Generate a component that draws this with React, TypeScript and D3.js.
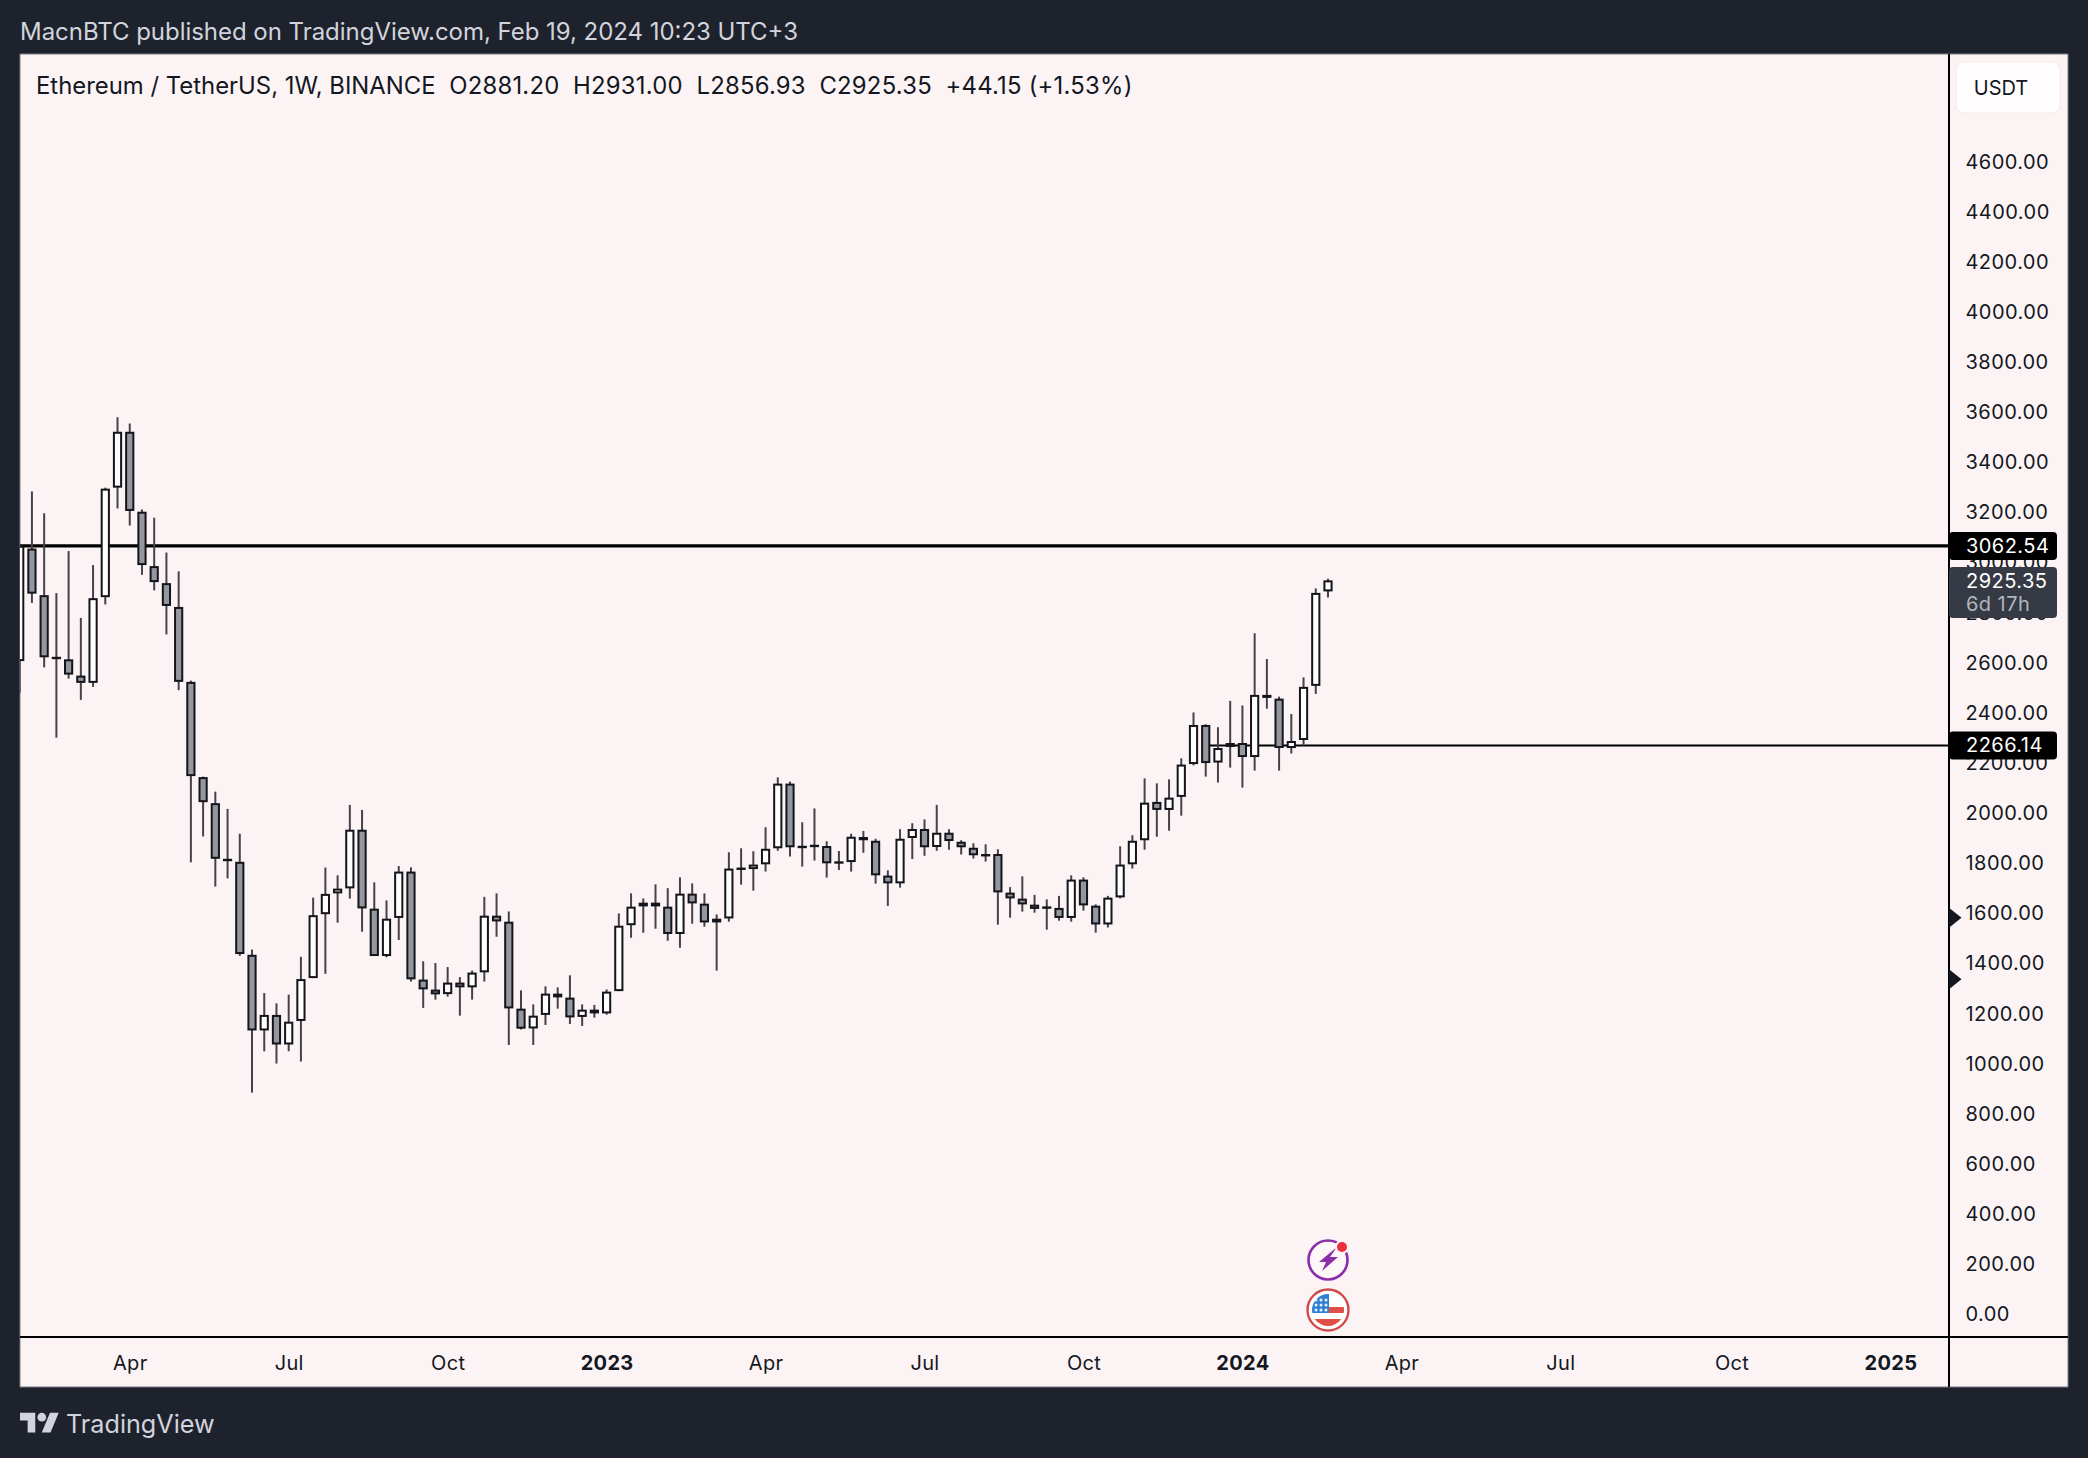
import { useEffect, useRef } from 'react'
import * as d3 from 'd3'

// weekly candles, first one is the week of 2022-01-31 and it is cut by the left edge
const opens = [2603,3052,2866,2620,2610,2545,2516,2858,3295,3518,3199,2982,2914,2819,2520,2140,2036,1814,1802,1431,1129,1191,1073,1167,1338,1593,1676,1696,1930,1615,1426,1578,1763,1332,1292,1274,1320,1301,1361,1587,1563,1216,1137,1191,1276,1260,1183,1212,1197,1286,1549,1624,1639,1623,1514,1675,1635,1560,1576,1777,1773,1792,1856,2114,1866,1870,1865,1800,1801,1901,1886,1747,1716,1897,1933,1861,1918,1882,1858,1833,1833,1679,1655,1631,1624,1618,1578,1731,1627,1552,1660,1792,1888,2041,2009,2061,2192,2348,2198,2260,2276,2220,2468,2453,2256,2288,2504,2881]
const highs = [3066,3280,3193,2874,3042,2775,2986,3295,3576,3551,3208,3175,3036,2961,2525,2142,2082,2013,1914,1452,1278,1237,1272,1423,1659,1779,1748,2029,2009,1720,1648,1785,1780,1405,1398,1382,1342,1368,1662,1676,1604,1289,1233,1305,1301,1349,1233,1231,1293,1596,1676,1656,1712,1697,1740,1716,1676,1592,1840,1856,1844,1940,2139,2122,1960,2015,1884,1845,1914,1925,1894,1768,1932,1956,1971,2029,1932,1888,1876,1872,1852,1701,1744,1670,1652,1666,1748,1740,1632,1666,1864,1908,2135,2115,2131,2215,2398,2351,2339,2444,2426,2714,2611,2461,2392,2538,2893,2931]
const lows = [2477,2835,2578,2297,2533,2448,2500,2829,3212,3144,2947,2885,2709,2487,1800,1903,1703,1736,1427,881,1046,997,1046,1005,1338,1355,1559,1655,1523,1426,1421,1490,1324,1219,1252,1264,1188,1252,1324,1503,1071,1133,1071,1151,1216,1155,1147,1180,1192,1286,1499,1519,1535,1487,1459,1555,1543,1368,1563,1711,1687,1763,1846,1823,1783,1807,1739,1769,1763,1838,1715,1626,1699,1813,1826,1846,1850,1831,1815,1803,1551,1579,1603,1599,1531,1567,1563,1607,1519,1540,1656,1775,1850,1902,1926,1986,2187,2142,2118,2178,2098,2166,2413,2166,2234,2266,2472,2857]
const closes = [3063,2872,2618,2616,2549,2516,2854,3291,3518,3202,2986,2918,2823,2520,2144,2040,1814,1810,1434,1129,1191,1073,1164,1334,1589,1674,1695,1930,1616,1426,1575,1763,1333,1293,1273,1320,1301,1360,1587,1564,1217,1136,1188,1276,1261,1181,1212,1197,1284,1547,1623,1639,1624,1514,1675,1636,1560,1575,1775,1779,1791,1854,2114,1860,1862,1866,1796,1804,1902,1888,1748,1716,1894,1933,1860,1918,1885,1860,1828,1831,1680,1656,1632,1614,1620,1578,1731,1628,1552,1659,1791,1886,2038,2009,2058,2190,2348,2196,2256,2276,2220,2468,2456,2256,2284,2500,2875,2925]

// tick labels sit on the first bar of each period, bar number counted from opens[0]
const timeTickBars = [9,22,35,48,61,74,87,100,113,126,140,153]
const timeTickLabels = ['Apr','Jul','Oct','2023','Apr','Jul','Oct','2024','Apr','Jul','Oct','2025']
const priceTicks = [0,200,400,600,800,1000,1200,1400,1600,1800,2000,2200,2400,2600,2800,3000,3200,3400,3600,3800,4000,4200,4400,4600]
const levelTop = 3062.54
const levelLow = 2266.14
const levelLowStartBar = 97
const lastPrice = 2925.35
const countdown = '6d 17h'
const eventMarkers = [1579, 1333]
const headerText = 'MacnBTC published on TradingView.com, Feb 19, 2024 10:23 UTC+3'
const legendParts = ['Ethereum / TetherUS, 1W, BINANCE', 'O2881.20', 'H2931.00', 'L2856.93', 'C2925.35', '+44.15 (+1.53%)']

const W = 2088
const H = 1458
const FONT = 'Inter, "Noto Sans", sans-serif'
const BG = '#1e222d'
const PANEL = '#fcf4f4'

export default function App() {
  const svgRef = useRef<SVGSVGElement>(null)

  useEffect(() => {
    if (!svgRef.current) return
    const svg = d3.select(svgRef.current)
    svg.selectAll('*').remove()

    const left = 20, right = 2068, top = 54, bottom = 1387
    const axisX = 1949, axisY = 1337

    const x = d3.scaleLinear().domain([0, 107]).range([19.7, 1328])
    const y = d3.scaleLinear().domain([0, 4600]).range([1313.4, 160.6])

    svg.append('rect').attr('width', W).attr('height', H).attr('fill', BG)
    svg.append('text').attr('x', 20).attr('y', 40).attr('fill', '#d1d4dc')
      .attr('font-size', 24).attr('font-family', FONT).attr('textLength', 778).text(headerText)

    svg.append('rect').attr('x', left).attr('y', top).attr('width', right - left).attr('height', bottom - top)
      .attr('fill', PANEL).attr('stroke', '#787b86').attr('stroke-width', 1)

    const clip = svg.append('defs').append('clipPath').attr('id', 'pane')
    clip.append('rect').attr('x', left).attr('y', top).attr('width', axisX - left).attr('height', axisY - top)
    const pane = svg.append('g').attr('clip-path', 'url(#pane)')

    // levels go under the candles
    pane.append('line').attr('x1', left).attr('x2', axisX).attr('y1', y(levelTop)).attr('y2', y(levelTop))
      .attr('stroke', '#000').attr('stroke-width', 3.4)
    pane.append('line').attr('x1', x(levelLowStartBar)).attr('x2', axisX).attr('y1', y(levelLow)).attr('y2', y(levelLow))
      .attr('stroke', '#000').attr('stroke-width', 2)

    const bars = d3.range(opens.length)
    pane.selectAll('line.wick').data(bars).join('line').attr('class', 'wick')
      .attr('x1', (i) => x(i)).attr('x2', (i) => x(i))
      .attr('y1', (i) => y(highs[i])).attr('y2', (i) => y(lows[i]))
      .attr('stroke', '#45424c').attr('stroke-width', 2)

    // values are the outer edge of the body, so pull the stroke inside
    const sw = 2
    pane.selectAll('rect.body').data(bars).join('rect').attr('class', 'body')
      .attr('x', (i) => x(i) - 3.6).attr('width', 7.2)
      .attr('y', (i) => y(Math.max(opens[i], closes[i])) + sw / 2)
      .attr('height', (i) => Math.max(Math.abs(y(opens[i]) - y(closes[i])) - sw, 0.4))
      .attr('fill', (i) => (closes[i] >= opens[i] ? '#ffffff' : '#95979f'))
      .attr('stroke', '#14141c').attr('stroke-width', sw)

    // time axis
    const timeAxis = svg.append('g').attr('transform', `translate(0,${axisY})`)
      .call(d3.axisBottom(x).tickValues(timeTickBars).tickSize(0).tickPadding(0)
        .tickFormat((_, i) => timeTickLabels[i]))
    timeAxis.select('.domain').remove()
    timeAxis.selectAll('text').attr('y', 25.5).attr('dy', '0.36em').attr('fill', '#131722')
      .attr('font-size', 20).attr('font-family', FONT).attr('letter-spacing', 0.3)
      .attr('font-weight', (_, i) => (/^20/.test(timeTickLabels[i]) ? 700 : 400))

    // price axis
    const priceAxis = svg.append('g').attr('transform', `translate(${axisX},0)`)
      .call(d3.axisRight(y).tickValues(priceTicks).tickSize(0).tickPadding(16.5).tickFormat((d) => (+d).toFixed(2)))
    priceAxis.select('.domain').remove()
    priceAxis.selectAll('text').attr('fill', '#131722').attr('font-size', 20).attr('dy', '0.37em')
      .attr('font-family', FONT).attr('letter-spacing', 0.45)

    svg.append('line').attr('x1', left).attr('x2', right).attr('y1', axisY).attr('y2', axisY)
      .attr('stroke', '#000').attr('stroke-width', 2)
    svg.append('line').attr('x1', axisX).attr('x2', axisX).attr('y1', top).attr('y2', bottom)
      .attr('stroke', '#000').attr('stroke-width', 2)

    // small event arrows on the scale
    svg.selectAll('path.marker').data(eventMarkers).join('path').attr('class', 'marker')
      .attr('transform', (d) => `translate(${axisX},${y(d)})`)
      .attr('d', 'M0,-10L12.5,0L0,10Z').attr('fill', '#131722')

    // price labels
    const priceLabel = (value: number, fill: string) => {
      svg.append('rect').attr('x', axisX).attr('y', y(value) - 14).attr('width', 108).attr('height', 28)
        .attr('rx', 4).attr('fill', fill)
      svg.append('text').attr('x', 1966).attr('y', y(value)).attr('dy', '0.34em').attr('fill', '#fff')
        .attr('font-size', 20).attr('font-family', FONT).attr('letter-spacing', 0.45).text(value.toFixed(2))
    }
    svg.append('rect').attr('x', axisX).attr('y', 567).attr('width', 108).attr('height', 51)
      .attr('rx', 4).attr('fill', '#363a45')
    svg.append('text').attr('x', 1966).attr('y', 581).attr('dy', '0.36em').attr('fill', '#fff')
      .attr('font-size', 20).attr('font-family', FONT).attr('letter-spacing', 0.45).text(lastPrice.toFixed(2))
    svg.append('text').attr('x', 1966).attr('y', 604).attr('dy', '0.36em').attr('fill', '#b2b5be')
      .attr('font-size', 20).attr('font-family', FONT).attr('letter-spacing', 0.45).text(countdown)
    priceLabel(levelTop, '#000')
    priceLabel(levelLow, '#000')

    // currency button
    svg.append('rect').attr('x', 1956).attr('y', 62).attr('width', 104).attr('height', 51).attr('rx', 8)
      .attr('fill', '#fffdfd').attr('stroke', '#f5eaea')
    svg.append('text').attr('x', 2001).attr('y', 88).attr('dy', '0.36em').attr('text-anchor', 'middle')
      .attr('fill', '#131722').attr('font-size', 20).attr('font-family', FONT).text('USDT')

    // legend line
    const legend = svg.append('text').attr('x', 36).attr('y', 94).attr('fill', '#131722')
      .attr('font-size', 23.88).attr('font-family', FONT)
    legendParts.forEach((t, i) => {
      legend.append('tspan').attr('dx', i ? 13.6 : 0).attr('letter-spacing', i ? 0.22 : 0).text(t)
    })

    // lightning badge
    const bolt = svg.append('g').attr('transform', 'translate(1328,1260)')
    bolt.append('circle').attr('r', 19.5).attr('fill', '#fdf7f8').attr('stroke', '#8a2fa8').attr('stroke-width', 2.6)
    bolt.append('path').attr('d', 'M9,-13L-9,2L-2,2L-6,11L10,-3L2,-3Z').attr('fill', '#8a2fa8')
    bolt.append('circle').attr('cx', 14).attr('cy', -13).attr('r', 7).attr('fill', PANEL)
    bolt.append('circle').attr('cx', 14).attr('cy', -13).attr('r', 5).attr('fill', '#e8303d')

    // flag badge
    const flag = svg.append('g').attr('transform', 'translate(1328,1310)')
    flag.append('circle').attr('r', 20.5).attr('fill', '#fff').attr('stroke', '#cf4a4a').attr('stroke-width', 2.4)
    const flagClip = svg.select('defs').append('clipPath').attr('id', 'flag')
    flagClip.append('circle').attr('r', 16)
    const inner = flag.append('g').attr('clip-path', 'url(#flag)')
    inner.append('rect').attr('x', -16).attr('y', -16).attr('width', 32).attr('height', 32).attr('fill', '#fff')
    inner.append('rect').attr('x', 0).attr('y', -3).attr('width', 16).attr('height', 6).attr('fill', '#df4f47')
    inner.append('rect').attr('x', -16).attr('y', 9).attr('width', 32).attr('height', 7).attr('fill', '#df4f47')
    inner.append('rect').attr('x', -16).attr('y', -16).attr('width', 17).attr('height', 19).attr('fill', '#2f7fd6')
    d3.range(3).forEach((r) => d3.range(3).forEach((c) => {
      inner.append('circle').attr('cx', -12 + c * 5).attr('cy', -10 + r * 5).attr('r', 1.5).attr('fill', '#eaf2fb')
    }))

    // logo
    const logo = svg.append('g').attr('transform', 'translate(20,1408.5) scale(1.09)').attr('fill', '#d1d4dc')
    logo.append('path').attr('d', 'M14 22H7V11H0V4h14v18zM28 22h-8l7.5-18h8L28 22z')
    logo.append('circle').attr('cx', 20).attr('cy', 8).attr('r', 4)
    svg.append('text').attr('x', 66).attr('y', 1433).attr('fill', '#d1d4dc')
      .attr('font-size', 25.2).attr('font-family', FONT).text('TradingView')
  }, [])

  return <svg ref={svgRef} width={W} height={H} style={{ position: 'absolute', left: 0, top: 0, display: 'block' }} />
}
